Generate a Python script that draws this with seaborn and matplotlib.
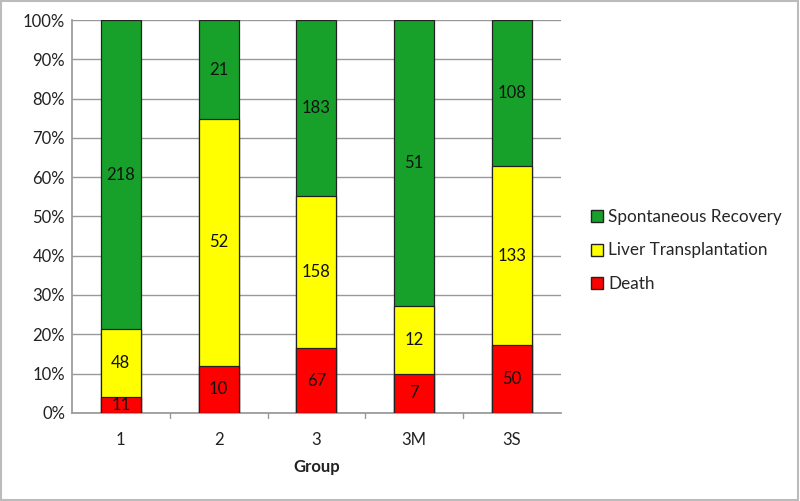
import numpy as np
import pandas as pd
import matplotlib
matplotlib.use("Agg")
import matplotlib.pyplot as plt
import seaborn as sns
from matplotlib.patches import Patch

groups = ["1", "2", "3", "3M", "3S"]
death = [11, 10, 67, 7, 50]
liver = [48, 52, 158, 12, 133]
spont = [218, 21, 183, 51, 108]

green = "#17A12B"
yellow = "#FFFF00"
red = "#FF0000"

sns.set_theme(style="white")
plt.rcParams["font.family"] = ["Lato", "DejaVu Sans"]

total = np.array(death) + np.array(liver) + np.array(spont)
df = pd.DataFrame({
    "Group": groups,
    "death": np.array(death) / total * 100,
    "liver": np.array(liver) / total * 100,
    "spont": np.array(spont) / total * 100,
})
df["top"] = df["death"] + df["liver"] + df["spont"]
df["mid"] = df["death"] + df["liver"]

fig = plt.figure(figsize=(8, 5.01), dpi=100)
ax = fig.add_axes([0.09, 0.176, 0.611, 0.784])

for col, c in [("top", green), ("mid", yellow), ("death", red)]:
    sns.barplot(data=df, x="Group", y=col, color=c, width=0.41,
                edgecolor="#222222", linewidth=0.9, saturation=1, ax=ax, zorder=3)

# segment labels
for i in range(len(groups)):
    segs = [(0, df["death"][i], death[i]),
            (df["death"][i], df["liver"][i], liver[i]),
            (df["mid"][i], df["spont"][i], spont[i])]
    for base, h, v in segs:
        ax.text(i, base + h / 2, str(v), ha="center", va="center",
                fontsize=12, color="#111111", zorder=5)

ax.set_ylim(0, 100)
ax.set_xlim(-0.5, len(groups) - 0.5)
ax.set_yticks(np.arange(0, 101, 10))
ax.set_yticklabels([f"{t}%" for t in range(0, 101, 10)], fontsize=12, color="#222222")
ax.tick_params(axis="x", labelsize=12, colors="#222222", length=0, pad=14)
ax.tick_params(axis="y", length=0, pad=5)
ax.set_xticks(range(len(groups)))
ax.set_xticklabels(groups)
for x in np.arange(0.5, len(groups) - 0.5, 1):
    ax.plot([x, x], [0, -1.2], color="#999999", lw=1, clip_on=False)
ax.yaxis.grid(True, color="#999999", lw=1, zorder=0)
ax.set_axisbelow(True)
ax.set_ylabel("")
ax.set_xlabel("Group", fontsize=12, fontweight="bold", color="#222222", labelpad=8)
for s in ["top", "right"]:
    ax.spines[s].set_visible(False)
ax.spines["left"].set_color("#999999")
ax.spines["bottom"].set_color("#999999")

handles = [Patch(facecolor=green, edgecolor="#222222", label="Spontaneous Recovery"),
           Patch(facecolor=yellow, edgecolor="#222222", label="Liver Transplantation"),
           Patch(facecolor=red, edgecolor="#222222", label="Death")]
fig.legend(handles=handles, loc="center left", bbox_to_anchor=(0.72, 0.5),
           frameon=False, fontsize=12.3, handlelength=0.7, handleheight=0.7,
           handletextpad=0.3, labelspacing=1.05)

fig.patches.append(plt.Rectangle((0.001, 0.001), 0.997, 0.997, transform=fig.transFigure,
                                 fill=False, edgecolor="#bbbbbb", lw=1.5))
fig.savefig("out.png", dpi=100)
